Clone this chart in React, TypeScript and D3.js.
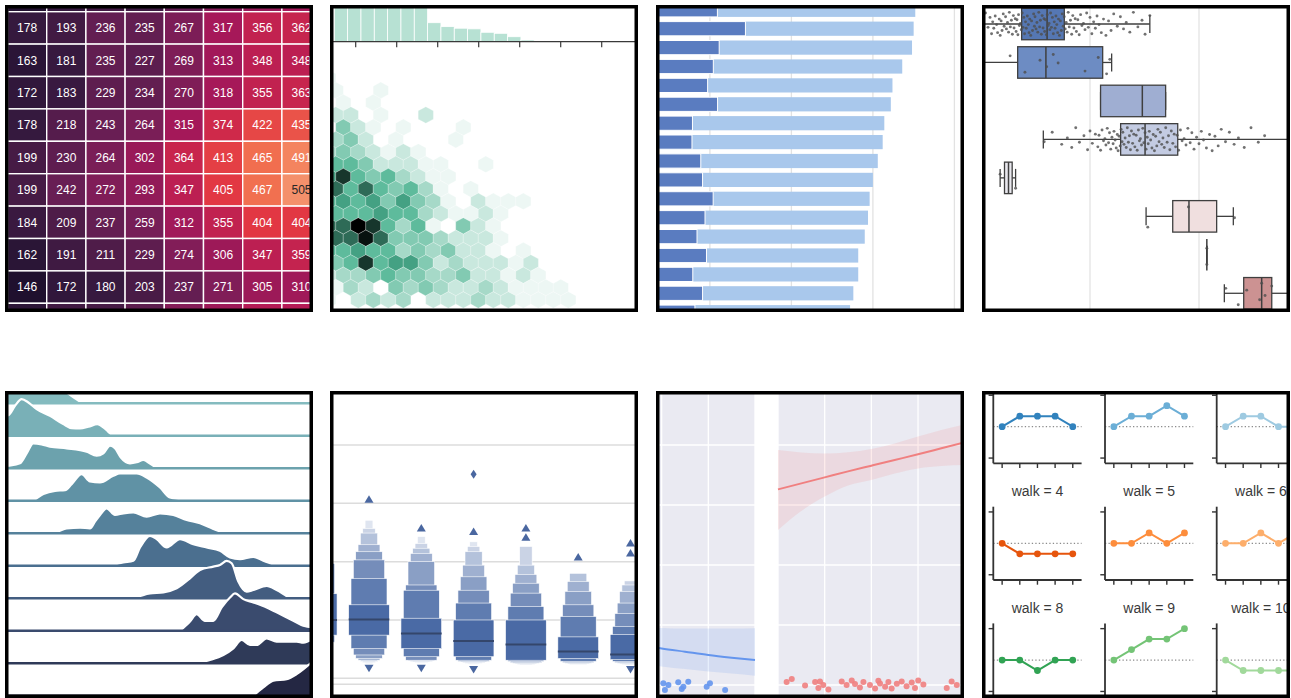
import React from "react";
import * as d3 from "d3";

const FONT = "'Liberation Sans', Arial, Helvetica, sans-serif";

/* ---------- thumbnail frames ---------- */
const frameX = [5, 330, 656, 982];
const frameY = [5, 391];
const frameW = 308;
const frameH = 307;

/* ---------- 1 · flights heatmap ---------- */
const hmYears = ["1951", "1952", "1953", "1954", "1955", "1956", "1957", "1958"];
const hmMonths = ["Feb", "Mar", "Apr", "May", "Jun", "Jul", "Aug", "Sep", "Oct", "Nov", "Dec"];
const hmValues = [
  [150, 180, 196, 188, 233, 277, 301, 318],
  [178, 193, 236, 235, 267, 317, 356, 362],
  [163, 181, 235, 227, 269, 313, 348, 348],
  [172, 183, 229, 234, 270, 318, 355, 363],
  [178, 218, 243, 264, 315, 374, 422, 435],
  [199, 230, 264, 302, 364, 413, 465, 491],
  [199, 242, 272, 293, 347, 405, 467, 505],
  [184, 209, 237, 259, 312, 355, 404, 404],
  [162, 191, 211, 229, 274, 306, 347, 359],
  [146, 172, 180, 203, 237, 271, 305, 310],
  [166, 194, 201, 229, 278, 306, 336, 337],
];
const hmDomain = [104, 622];
const rocketStops = ["#03051a", "#35193e", "#701f57", "#ad1759", "#e13342", "#f37651", "#f6b48f", "#faebdd"];

/* ---------- 2 · hexbin joint plot ---------- */
const hexColor = "#4CB391";
const hexMaxCount = 20;
const hexCounts = [
  [1],
  [1, 0, 0, 1],
  [0, 1, 0, 1],
  [3, 3, 0, 1, 0, 0, 3],
  [0, 7, 3, 1, 0, 1, 0, 0, 0, 1],
  [5, 7, 3, 0, 1, 0, 0, 0, 1],
  [5, 7, 5, 3, 1, 3, 1],
  [9, 9, 7, 3, 3, 3, 1, 1, 0, 0, 1],
  [11, 17, 9, 7, 9, 5, 3, 1, 1],
  [14, 9, 14, 9, 7, 9, 5, 1, 0, 1],
  [9, 11, 9, 11, 7, 11, 7, 5, 1, 0, 3, 1, 1, 1],
  [9, 9, 9, 11, 9, 9, 5, 3, 1, 1, 3, 1],
  [14, 14, 20, 17, 9, 5, 9, 1, 0, 7, 3, 1],
  [14, 14, 19, 14, 7, 7, 7, 5, 3, 3, 3, 1],
  [9, 9, 11, 9, 9, 5, 7, 5, 7, 3, 3, 1, 0, 1],
  [7, 9, 17, 9, 11, 11, 7, 3, 5, 3, 3, 3, 1, 3],
  [3, 5, 5, 7, 9, 7, 7, 5, 5, 7, 3, 3, 1, 3, 1],
  [1, 5, 3, 0, 7, 5, 7, 5, 3, 3, 5, 3, 1, 1, 1, 1],
  [1, 0, 3, 5, 3, 5, 0, 3, 3, 3, 5, 3, 3, 1, 1, 1, 1],
];
const margCounts = [330, 360, 390, 380, 350, 320, 290, 145, 115, 103, 98, 72, 64, 38, 13, 5, 5, 3, 5];
const margTicks = [0, 1, 2, 3, 4, 5, 6];

/* ---------- 3 · car crashes stacked bars ---------- */
const crashStates = ["MS", "HI", "WY", "NC", "DE", "MO", "IA", "GA", "ID", "ME", "NE", "NV", "IN", "OH", "MI", "WI", "VT"];
const crashTotal = [17.6, 17.5, 17.4, 16.8, 16.2, 16.1, 15.7, 15.6, 15.3, 15.0, 14.8, 14.7, 14.5, 14.1, 14.1, 13.8, 13.6];
const crashAlcohol = [5.46, 7.18, 5.57, 5.21, 4.86, 5.47, 3.93, 3.9, 4.44, 4.55, 5.2, 4.7, 4.21, 4.79, 3.95, 4.55, 4.08];
const crashTicks = [5, 10, 15, 20];

/* ---------- 4 · planets boxplot (log distance) ---------- */
const planetMethods = ["Radial Velocity", "Imaging", "Eclipse Timing Variations", "Transit", "Astrometry", "Transit Timing Variations", "Orbital Brightness Modulation", "Microlensing"];
// [min, q1, median, q3, max]
const planetStats = [
  [1.35, 23.6, 40.4, 58.1, 354],
  [7.69, 21.7, 39.4, 130.7, 158],
  [125, 125, 302, 494, 494],
  [37.3, 191, 320, 638, 8500],
  [14.98, 16.43, 17.88, 19.32, 20.77],
  [327, 574, 809, 1452, 2065],
  [1180, 1180, 1180, 1180, 1180],
  [1708, 2571, 3758, 4650, 7720],
];
const planetColors = ["#5577b3", "#6d8cc3", "#9faed2", "#c3cbe2", "#e9e8ee", "#f0dfdf", "#e5bdbd", "#cc9292"];
const planetGrid = [10, 100, 1000, 10000];
const rvDistances = [
  5.2, 6.5, 7.3, 8.1, 9.2, 9.8, 10.4, 11.0, 11.6, 12.1, 12.5, 12.8, 13.1, 13.5, 13.9, 14.2, 14.7, 15.0, 15.3, 15.6,
  16.0, 16.3, 16.8, 17.1, 17.5, 17.9, 18.2, 18.6, 19.0, 19.4, 19.8, 20.1, 20.6, 21.0, 21.4, 21.8, 22.1, 22.5, 23.0, 23.4,
  23.9, 24.3, 24.7, 25.1, 25.6, 26.0, 26.6, 27.2, 27.6, 28.0, 28.6, 29.1, 29.7, 30.4, 30.9, 31.3, 32.0, 32.6, 33.2, 33.9,
  34.5, 35.1, 35.8, 36.4, 37.1, 37.8, 38.4, 39.0, 39.8, 40.5, 41.3, 42.1, 42.8, 43.5, 44.3, 45.2, 46.1, 47.0, 47.8, 48.7,
  49.6, 50.5, 51.4, 52.4, 53.5, 54.6, 55.7, 56.8, 58.0, 59.3, 60.5, 61.7, 63.1, 64.5, 66.2, 67.9, 69.5, 71.2, 73.1, 75.0,
  77.3, 79.6, 82.0, 84.3, 87.1, 90.0, 93.2, 96.5, 100, 104, 108, 112, 116, 121, 127, 133, 140, 148, 156, 165,
  178, 190, 203, 215, 232, 250, 275, 300, 320, 354,
];
const imagingDistances = [8.0, 10.1, 18.5, 25.3, 34.8, 40, 46, 51, 90, 119, 142, 152];
const transitDistances = [
  38, 45, 55, 62, 68, 74, 80, 88, 95, 100, 105, 112, 118, 121, 125, 129, 133, 137, 140, 144,
  148, 151, 155, 159, 163, 166, 170, 174, 178, 181, 185, 189, 193, 197, 200, 205, 210, 215, 220, 225,
  230, 235, 240, 246, 252, 258, 265, 271, 278, 284, 290, 297, 305, 312, 320, 327, 335, 342, 350, 360,
  370, 380, 390, 400, 410, 420, 430, 442, 455, 467, 480, 495, 510, 525, 540, 557, 575, 592, 610, 630,
  650, 675, 700, 730, 760, 790, 830, 860, 900, 950, 1000, 1050, 1100, 1170, 1250, 1320, 1400, 1500, 1600, 1750,
  1900, 2100, 2300, 2600, 3000, 3500, 4000, 8500,
];
const astrometryDistances = [14.98, 20.77];
const ttvDistances = [339, 800, 2119];
const obmDistances = [1180, 1180];
const microDistances = [1760, 2291, 2741, 3600, 3758, 4036, 4650, 7720];
const planetPoints = [rvDistances, imagingDistances, [], transitDistances, astrometryDistances, ttvDistances, obmDistances, microDistances];
const stripJitter = [0.62, -0.35, 0.9, -0.78, 0.12, -0.05, 0.47, -0.92, 0.28, -0.55, 0.81, -0.18, 0.36, -0.67, 0.05, 0.72, -0.41, 0.95, -0.26, 0.54, -0.84, 0.19, -0.6, 0.41, -0.12, 0.68, -0.97, 0.24, -0.31, 0.86, -0.7, 0.33, -0.44];

/* ---------- 5 · ridgeline densities ---------- */
const ridgeColors = ["#84bbbf", "#79b0b7", "#6ca2ad", "#6092a5", "#55819b", "#4b6f8f", "#435d80", "#3a4b6e", "#2f3a58", "#242743"];
// [x, density] pairs per group
const ridgeCurves = [
  [[-30, 55], [25, 50], [80, 60], [150, 50], [200, 32], [225, 15], [245, 3], [270, 0]],
  [[-30, 55], [25, 62], [45, 90], [65, 110], [85, 100], [110, 80], [150, 60], [190, 35], [215, 23], [240, 22], [265, 27], [292, 35], [312, 24], [325, 12], [340, 0]],
  [[-30, 4], [25, 8], [60, 15], [80, 45], [100, 75], [125, 72], [150, 65], [200, 60], [260, 50], [290, 38], [310, 45], [330, 68], [345, 60], [362, 33], [390, 15], [410, 18], [430, 25], [450, 14], [470, 0]],
  [[100, 0], [130, 20], [165, 30], [195, 32], [215, 50], [245, 80], [270, 58], [300, 55], [340, 75], [360, 82], [410, 82], [440, 70], [480, 40], [510, 10], [540, 5], [570, 0]],
  [[165, 0], [200, 15], [240, 17], [270, 15], [285, 35], [300, 55], [320, 75], [345, 55], [370, 60], [400, 63], [440, 50], [480, 60], [520, 55], [560, 40], [600, 30], [640, 13], [670, 3], [700, 0]],
  [[330, 0], [370, 10], [400, 15], [420, 55], [450, 90], [470, 80], [500, 55], [540, 80], [580, 65], [620, 55], [660, 45], [690, 25], [720, 20], [760, 27], [790, 15], [830, 0]],
  [[400, 0], [450, 15], [490, 18], [530, 30], [570, 60], [600, 85], [640, 95], [660, 100], [680, 112], [695, 105], [715, 50], [740, 20], [760, 25], [800, 37], [830, 25], [870, 0]],
  [[540, 0], [570, 28], [590, 50], [615, 30], [640, 30], [665, 70], [690, 100], [705, 112], [730, 95], [760, 85], [800, 70], [840, 50], [880, 30], [910, 15], [940, 10]],
  [[590, 0], [630, 10], [670, 25], [700, 45], [725, 70], [750, 55], [770, 55], [800, 75], [830, 65], [860, 65], [890, 65], [910, 62], [940, 75]],
  [[760, 0], [790, 25], [820, 45], [860, 50], [890, 65], [940, 105]],
];

/* ---------- 6 · boxenplot (diamonds carat by clarity) ---------- */
const boxenCats = ["I1", "SI2", "SI1", "VS2", "VS1", "VVS2", "VVS1"];
const boxenMedian = [1.0, 1.01, 0.77, 0.64, 0.58, 0.46, 0.41];
const boxenUpper = [
  [1.45, 1.97, 2.3, 2.6],
  [1.26, 1.71, 2.03, 2.17, 2.29, 2.49, 2.57, 2.71],
  [1.03, 1.51, 1.6, 2.0, 2.14, 2.23, 2.31, 2.43],
  [1.0, 1.29, 1.51, 1.74, 1.94, 2.17, 2.26, 2.34],
  [1.0, 1.23, 1.46, 1.63, 1.78, 1.94, 2.26],
  [0.71, 1.06, 1.26, 1.49, 1.66, 1.8],
  [0.75, 0.89, 1.11, 1.29, 1.49, 1.6, 1.67],
];
const boxenLower = [
  [0.74, 0.62, 0.5, 0.4],
  [0.74, 0.51, 0.4, 0.34, 0.31, 0.29, 0.27, 0.25],
  [0.51, 0.37, 0.31, 0.3, 0.29, 0.28, 0.27, 0.26],
  [0.37, 0.31, 0.29, 0.28, 0.27, 0.26, 0.25, 0.24],
  [0.31, 0.29, 0.27, 0.26, 0.25, 0.24, 0.23],
  [0.34, 0.29, 0.27, 0.26, 0.25, 0.24],
  [0.32, 0.29, 0.27, 0.26, 0.25, 0.24, 0.23],
];
const boxenHighOutliers = [[], [3.06], [2.57], [2.51], [2.41, 2.57], [2.07], [2.14, 2.31]];
const boxenFarOutliers = [[], [], [], [3.5], [], [], []];
const boxenLowOutliers = [[], [0.18], [0.18], [0.16], [], [], [0.16]];
const boxenGrid = [0, 1, 2, 3, 4];

/* ---------- 7 · logistic regression (titanic) ---------- */
const fitAgesMale = [30, 40, 50, 60, 70, 80];
const maleFit = [0.135, 0.122, 0.111, 0.1, 0.091, 0.083];
const maleLo = [0.075, 0.062, 0.053, 0.045, 0.038, 0.031];
const maleHi = [0.195, 0.19, 0.188, 0.188, 0.188, 0.189];
const fitAgesFemale = [0, 10, 20, 30, 40, 50, 60, 70, 80];
const femaleFit = [0.652, 0.672, 0.692, 0.712, 0.731, 0.75, 0.769, 0.789, 0.809];
const femaleLo = [0.517, 0.58, 0.628, 0.665, 0.683, 0.705, 0.722, 0.73, 0.733];
const femaleHi = [0.783, 0.775, 0.772, 0.776, 0.787, 0.805, 0.828, 0.85, 0.869];
const maleAges = [40.7, 42.9, 41.4, 47.1, 48.6, 49.3, 51.4, 59.3, 60.7, 67.2];
const maleSurv = [0.006, 0.0, -0.017, 0.009, -0.013, -0.006, 0.011, -0.006, 0.006, -0.017];
const femaleAges = [3.7, 5.9, 11.6, 15.9, 17.3, 18, 19.4, 21.6, 27.3, 29.4, 31.6, 33, 35.1, 36.6, 39.4, 41.6, 43, 43.7, 45.9, 47.3, 48.7, 50.9, 53, 55.1, 57.3, 58.7, 60.1, 62.3, 72.3, 74.4, 76.6];
const femaleSurv = [0.01, 0.02, -0.002, 0.01, -0.01, 0.012, 0.0, -0.015, 0.012, 0.0, 0.015, 0.003, -0.008, 0.01, 0.0, -0.012, 0.014, 0.005, -0.006, 0.01, -0.012, 0.004, 0.012, -0.004, 0.008, -0.01, 0.015, 0.002, -0.01, 0.012, 0.0];
const ageTicks = [0, 20, 40, 60, 80];
const survTicks = [0, 0.2, 0.4, 0.6, 0.8, 1.0];

/* ---------- 8 · random walks facet grid ---------- */
const walkIds = [0, 1, 2, 4, 5, 6, 8, 9, 10];
const walkPositions = [
  [0, 1, 1, 1, 0],
  [0, 1, 1, 2, 1],
  [0, 1, 1, 0, 0],
  [0, -1, -1, -1, -1],
  [0, 0, 1, 0, 1],
  [0, 0, 1, 0, 1],
  [0, 0, -1, 0, 0],
  [0, 1, 2, 2, 3],
  [0, -1, -1, -1, -1],
];
const walkSteps = [0, 1, 2, 3, 4];
const walkYTicks = [-3, 3];
const tab20c = ["#3182bd", "#6baed6", "#9ecae1", "#c6dbef", "#e6550d", "#fd8d3c", "#fdae6b", "#fdd0a2", "#31a354", "#74c476", "#a1d99b", "#c7e9c0"];

/* ================= panels ================= */

function luminance(c: string) {
  const r = d3.rgb(c);
  const f = (v: number) => {
    v /= 255;
    return v <= 0.03928 ? v / 12.92 : Math.pow((v + 0.055) / 1.055, 2.4);
  };
  return 0.2126 * f(r.r) + 0.7152 * f(r.g) + 0.0722 * f(r.b);
}

function HeatmapPanel() {
  const x = d3.scaleBand<string>().domain(hmYears).range([7.5, 7.5 + hmYears.length * 39.2]);
  const y = d3.scaleBand<string>().domain(hmMonths).range([-20.7, -20.7 + hmMonths.length * 32.4]);
  const stopsDomain = rocketStops.map((_, i) => hmDomain[0] + ((hmDomain[1] - hmDomain[0]) * i) / (rocketStops.length - 1));
  const color = d3.scaleLinear<string>().domain(stopsDomain).range(rocketStops).clamp(true);
  const bw = x.bandwidth();
  const bh = y.bandwidth();
  const top = frameY[0];
  const bottom = frameY[0] + frameH;
  return (
    <g>
      {hmMonths.map((m, r) =>
        hmYears.map((yr, c) => {
          const v = hmValues[r][c];
          const fill = color(v) as string;
          const cy = (y(m) as number) + bh / 2;
          const showText = cy - 6 > top && cy + 6 < bottom;
          return (
            <g key={m + yr}>
              <rect x={x(yr)} y={y(m)} width={bw} height={bh} fill={fill} stroke="#ffffff" strokeWidth={1.4} />
              {showText ? (
                <text
                  x={(x(yr) as number) + bw / 2}
                  y={cy}
                  dy="0.36em"
                  textAnchor="middle"
                  fontSize={12}
                  fill={luminance(fill) > 0.385 ? "#262626" : "#ffffff"}
                >
                  {v}
                </text>
              ) : null}
            </g>
          );
        })
      )}
    </g>
  );
}

function HexPanel() {
  const colX = d3.scaleLinear().domain([0, 1]).range([328.3, 343.3]);
  const rowY = d3.scaleLinear().domain([0, 1]).range([78, 90.33]);
  const light = d3.scaleLinear().domain([0, hexMaxCount]).range([1, 0]);
  const base = d3.hsl(hexColor);
  const R = 8.3;
  const hw = 7.6;
  const hexPath = `M0,${-R}L${hw},${-R / 2}L${hw},${R / 2}L0,${R}L${-hw},${R / 2}L${-hw},${-R / 2}Z`;
  const binX = d3.scaleLinear().domain([0, 1]).range([334.3, 347.63]);
  const barH = d3.scaleLinear().domain([0, 100]).range([0, 13.1]);
  const tickX = d3.scaleLinear().domain([0, 1]).range([355.7, 396.7]);
  const axisY = 41.7;
  return (
    <g>
      {hexCounts.map((row, r) =>
        row.map((c, k) =>
          c > 0 ? (
            <path
              key={`h${r}-${k}`}
              d={hexPath}
              transform={`translate(${colX(k + (r % 2) * 0.5)},${rowY(r)})`}
              fill={d3.hsl(base.h, base.s, light(c)).formatHex()}
              stroke="#ffffff"
              strokeWidth={0.3}
            />
          ) : null
        )
      )}
      {margCounts.map((c, i) => (
        <rect
          key={`b${i}`}
          x={binX(i)}
          y={axisY - barH(c)}
          width={binX(1) - binX(0)}
          height={barH(c)}
          fill={hexColor}
          fillOpacity={0.4}
          stroke="#ffffff"
          strokeWidth={0.8}
        />
      ))}
      <line x1={330} x2={640} y1={axisY} y2={axisY} stroke="#3a3a3a" strokeWidth={1.2} />
      {margTicks.map((t) => (
        <line key={`t${t}`} x1={tickX(t)} x2={tickX(t)} y1={axisY} y2={axisY + 5.5} stroke="#3a3a3a" strokeWidth={1.2} />
      ))}
    </g>
  );
}

function BarPanel() {
  const x = d3.scaleLinear().domain([0, 20]).range([628.4, 954.4]);
  const y = d3.scalePoint<string>().domain(crashStates).range([9.8, 9.8 + (crashStates.length - 1) * 18.9]);
  const bh = 14.2;
  return (
    <g>
      {crashTicks.map((t) => (
        <line key={`g${t}`} x1={x(t)} x2={x(t)} y1={0} y2={320} stroke="#e2e2e2" strokeWidth={1.3} />
      ))}
      {crashStates.map((s, i) => (
        <rect key={`t${s}`} x={x(0)} y={(y(s) as number) - bh / 2} width={x(crashTotal[i]) - x(0)} height={bh} fill="#a9c8ec" />
      ))}
      {crashStates.map((s, i) => (
        <rect key={`a${s}`} x={x(0)} y={(y(s) as number) - bh / 2} width={x(crashAlcohol[i]) - x(0)} height={bh} fill="#5a7cc0" stroke="#ffffff" strokeWidth={1} />
      ))}
    </g>
  );
}

function BoxPanel() {
  const x = d3.scaleLog().domain([100, 1000]).range([1090, 1199]);
  const y = d3.scalePoint<string>().domain(planetMethods).range([24, 24 + (planetMethods.length - 1) * 38.47]);
  const bh = 31.5;
  const stroke = "#3f3f3f";
  return (
    <g>
      {planetGrid.map((g) => (
        <line key={`g${g}`} x1={x(g)} x2={x(g)} y1={0} y2={320} stroke="#e3e3e3" strokeWidth={1.3} />
      ))}
      {planetMethods.map((m, i) => {
        const [mn, q1, md, q3, mx] = planetStats[i];
        const cy = y(m) as number;
        return (
          <g key={m}>
            <line x1={x(mn)} x2={x(q1)} y1={cy} y2={cy} stroke={stroke} strokeWidth={1.3} />
            <line x1={x(q3)} x2={x(mx)} y1={cy} y2={cy} stroke={stroke} strokeWidth={1.3} />
            <line x1={x(mn)} x2={x(mn)} y1={cy - 9} y2={cy + 9} stroke={stroke} strokeWidth={1.3} />
            <line x1={x(mx)} x2={x(mx)} y1={cy - 9} y2={cy + 9} stroke={stroke} strokeWidth={1.3} />
            <rect x={x(q1)} y={cy - bh / 2} width={x(q3) - x(q1)} height={bh} fill={planetColors[i]} stroke={stroke} strokeWidth={1.3} />
            <line x1={x(md)} x2={x(md)} y1={cy - bh / 2} y2={cy + bh / 2} stroke={stroke} strokeWidth={1.5} />
          </g>
        );
      })}
      {planetMethods.map((m, i) =>
        planetPoints[i].map((d, j) => (
          <circle
            key={`${m}-${j}`}
            cx={x(d)}
            cy={(y(m) as number) + stripJitter[(j + i * 7) % stripJitter.length] * 12}
            r={1.45}
            fill="#4d4d4d"
            fillOpacity={0.8}
          />
        ))
      )}
    </g>
  );
}

function RidgePanel() {
  const x = d3.scaleLinear().domain([0, 930]).range([0, 310]);
  const h = d3.scaleLinear().domain([0, 300]).range([0, 100]);
  const base = d3.scaleLinear().domain([0, 1]).range([403.3, 435.8]);
  return (
    <g>
      {ridgeCurves.map((pts, i) => {
        const b = base(i);
        const area = d3
          .area<number[]>()
          .x((d) => x(d[0]))
          .y0(b)
          .y1((d) => b - h(d[1]))
          .curve(d3.curveMonotoneX);
        const line = d3
          .line<number[]>()
          .x((d) => x(d[0]))
          .y((d) => b - h(d[1]))
          .curve(d3.curveMonotoneX);
        return (
          <g key={`r${i}`}>
            <path d={area(pts) as string} fill={ridgeColors[i]} />
            <path d={line(pts) as string} fill="none" stroke="#ffffff" strokeWidth={2.2} />
            <line x1={0} x2={320} y1={b} y2={b} stroke={ridgeColors[i]} strokeWidth={2.6} />
          </g>
        );
      })}
    </g>
  );
}

function BoxenPanel() {
  const x = d3.scaleBand<string>().domain(boxenCats).range([290.55, 290.55 + boxenCats.length * 52.3]);
  const y = d3.scaleLinear().domain([0, 4]).range([678.3, 445]);
  const width = d3.scaleLinear().domain([1, 9]).range([40.7, 3.1]);
  const shade = d3.interpolateRgb("#4a6aa5", "#dfe5f0");
  const markColor = "#4a67a0";
  return (
    <g>
      {boxenGrid.map((g) => (
        <line key={`g${g}`} x1={330} x2={640} y1={y(g)} y2={y(g)} stroke="#dcdcdc" strokeWidth={1.5} />
      ))}
      <line x1={330} x2={640} y1={y(-0.1)} y2={y(-0.1)} stroke="#dcdcdc" strokeWidth={1.5} />
      {boxenCats.map((c, i) => {
        const cx = (x(c) as number) + x.bandwidth() / 2;
        const levels = boxenUpper[i].map((u, k) => ({ k: k + 1, u, l: boxenLower[i][k] }));
        const K = 8;
        return (
          <g key={c}>
            {levels
              .slice()
              .reverse()
              .map((lv) => {
                const w = width(lv.k);
                return (
                  <rect
                    key={`lv${lv.k}`}
                    x={cx - w / 2}
                    y={y(lv.u)}
                    width={w}
                    height={y(lv.l) - y(lv.u)}
                    fill={shade((lv.k - 1) / (K - 1))}
                    stroke="#ffffff"
                    strokeWidth={0.6}
                  />
                );
              })}
            <line x1={cx - width(1) / 2} x2={cx + width(1) / 2} y1={y(boxenMedian[i])} y2={y(boxenMedian[i])} stroke="#34466b" strokeWidth={2} />
            {boxenHighOutliers[i].map((o, j) => (
              <path key={`hi${j}`} d={`M${cx},${y(o) - 4.5}L${cx + 4.5},${y(o) + 3}L${cx - 4.5},${y(o) + 3}Z`} fill={markColor} />
            ))}
            {boxenFarOutliers[i].map((o, j) => (
              <path key={`far${j}`} d={`M${cx},${y(o) - 4.5}L${cx + 3},${y(o)}L${cx},${y(o) + 4.5}L${cx - 3},${y(o)}Z`} fill={markColor} />
            ))}
            {boxenLowOutliers[i].map((o, j) => (
              <path key={`lo${j}`} d={`M${cx - 4.5},${y(o) - 3}L${cx + 4.5},${y(o) - 3}L${cx},${y(o) + 4.5}Z`} fill={markColor} />
            ))}
          </g>
        );
      })}
    </g>
  );
}

function LogisticPanel() {
  const y = d3.scaleLinear().domain([-0.05, 1.05]).range([700, 370]);
  const facets = [
    { key: "male", range: [568.3, 755], color: "#6495ED", ages: fitAgesMale, fit: maleFit, lo: maleLo, hi: maleHi, px: maleAges, py: maleSurv },
    { key: "female", range: [778, 964.7], color: "#F08080", ages: fitAgesFemale, fit: femaleFit, lo: femaleLo, hi: femaleHi, px: femaleAges, py: femaleSurv },
  ];
  return (
    <g>
      {facets.map((f) => {
        const x = d3.scaleLinear().domain([0, 80]).range(f.range);
        const area = d3
          .area<number>()
          .x((_, i) => x(f.ages[i]))
          .y0((_, i) => y(f.lo[i]))
          .y1((_, i) => y(f.hi[i]))
          .curve(d3.curveMonotoneX);
        const line = d3
          .line<number>()
          .x((_, i) => x(f.ages[i]))
          .y((d) => y(d))
          .curve(d3.curveMonotoneX);
        return (
          <g key={f.key}>
            <rect x={f.range[0]} y={370} width={f.range[1] - f.range[0]} height={330} fill="#eaeaf2" />
            {ageTicks.map((t) => (
              <line key={`v${t}`} x1={x(t)} x2={x(t)} y1={370} y2={700} stroke="#ffffff" strokeWidth={1.3} />
            ))}
            {survTicks.map((t) => (
              <line key={`h${t}`} x1={f.range[0]} x2={f.range[1]} y1={y(t)} y2={y(t)} stroke="#ffffff" strokeWidth={1.3} />
            ))}
            <path d={area(f.fit) as string} fill={f.color} fillOpacity={0.16} />
            <path d={line(f.fit) as string} fill="none" stroke={f.color} strokeWidth={2} />
            {f.px.map((a, i) => (
              <circle key={`p${i}`} cx={x(a)} cy={y(f.py[i])} r={3} fill={f.color} fillOpacity={0.9} />
            ))}
          </g>
        );
      })}
    </g>
  );
}

function WalkPanel() {
  const ink = "#333333";
  return (
    <g>
      {walkIds.map((id, i) => {
        const col = id % 4;
        const row = Math.floor(id / 4);
        const left = 993.3 + col * 111.7;
        const top = 390 + row * 116.7;
        const x = d3.scaleLinear().domain([-0.5, 4.5]).range([left, left + 88.3]);
        const y = d3.scaleLinear().domain([-3.5, 3.5]).range([top + 73.3, top]);
        const color = tab20c[id];
        const line = d3
          .line<number>()
          .x((_, j) => x(walkSteps[j]))
          .y((d) => y(d));
        return (
          <g key={`w${id}`}>
            {row > 0 ? (
              <text x={left + 44.2} y={top - 15.7} dy="0.35em" textAnchor="middle" fontSize={14} fill="#3a3a3a">
                {`walk = ${id}`}
              </text>
            ) : null}
            <line x1={left} x2={left + 88.3} y1={y(0)} y2={y(0)} stroke="#8c8c8c" strokeWidth={1.2} strokeDasharray="1.3,2.2" />
            <path d={line(walkPositions[i]) as string} fill="none" stroke={color} strokeWidth={2} />
            {walkPositions[i].map((p, j) => (
              <circle key={`c${j}`} cx={x(walkSteps[j])} cy={y(p)} r={3.4} fill={color} />
            ))}
            <line x1={left} x2={left} y1={top} y2={top + 73.3} stroke={ink} strokeWidth={1.8} />
            <line x1={left} x2={left + 88.3} y1={top + 73.3} y2={top + 73.3} stroke={ink} strokeWidth={1.8} />
            {walkSteps.map((s) => (
              <line key={`xt${s}`} x1={x(s)} x2={x(s)} y1={top + 73.3} y2={top + 78} stroke={ink} strokeWidth={1.4} />
            ))}
            {walkYTicks.map((t) => (
              <line key={`yt${t}`} x1={left - 4.7} x2={left} y1={y(t)} y2={y(t)} stroke={ink} strokeWidth={1.4} />
            ))}
          </g>
        );
      })}
    </g>
  );
}

export default function App() {
  const frames = frameY.flatMap((fy) => frameX.map((fx) => ({ x: fx, y: fy })));
  const panels = [HeatmapPanel, HexPanel, BarPanel, BoxPanel, RidgePanel, BoxenPanel, LogisticPanel, WalkPanel];
  return (
    <svg
      width={1291}
      height={698}
      viewBox="0 0 1291 698"
      style={{ position: "absolute", left: 0, top: 0, display: "block", background: "#ffffff" }}
      fontFamily={FONT}
    >
      <defs>
        {frames.map((f, i) => (
          <clipPath id={`frameclip${i}`} key={`cp${i}`}>
            <rect x={f.x} y={f.y} width={frameW} height={frameH} />
          </clipPath>
        ))}
      </defs>
      <rect x={0} y={0} width={1291} height={698} fill="#ffffff" />
      {panels.map((P, i) => (
        <g key={`p${i}`} clipPath={`url(#frameclip${i})`}>
          <rect x={frames[i].x} y={frames[i].y} width={frameW} height={frameH} fill="#ffffff" />
          <P />
        </g>
      ))}
      {frames.map((f, i) => (
        <rect
          key={`fr${i}`}
          x={f.x + 1.75}
          y={f.y + 1.75}
          width={frameW - 3.5}
          height={frameH - 3.5}
          fill="none"
          stroke="#000000"
          strokeWidth={3.5}
        />
      ))}
    </svg>
  );
}
